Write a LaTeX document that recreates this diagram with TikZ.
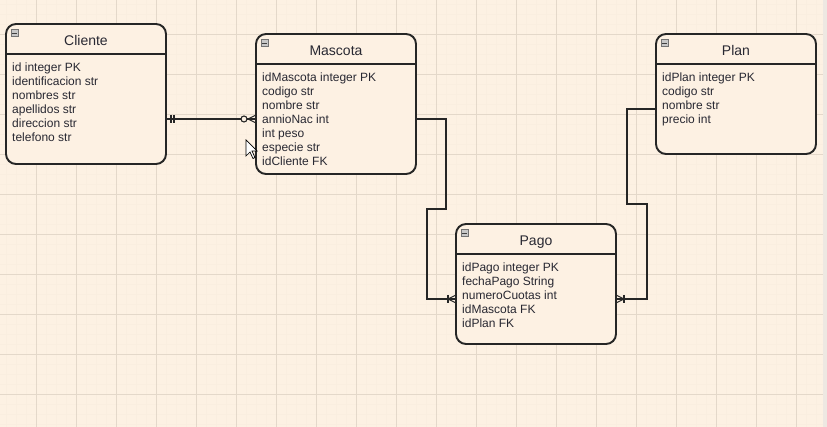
\documentclass[tikz,border=0pt]{standalone}
\usepackage{fontspec}
\setmainfont{Liberation Sans}
\usetikzlibrary{calc}
\definecolor{bg}{RGB}{253,241,227}
\definecolor{gridmaj}{RGB}{228,216,202}
\definecolor{gridmin}{RGB}{250,238,224}
\definecolor{ink}{RGB}{38,38,38}
\definecolor{txt}{RGB}{40,40,50}
\definecolor{iconfill}{RGB}{200,200,200}
\definecolor{strip}{RGB}{238,232,226}
\tikzset{
  entity/.style={draw=ink, line width=1.9pt, rounded corners=10pt, minimum width=160pt,
    anchor=north west, inner sep=0pt, outer sep=0pt, fill=bg},
  hdrline/.style={draw=ink, line width=1.9pt},
  titletext/.style={anchor=base, font=\fontsize{14}{16}\selectfont, text=txt, inner sep=0pt},
  attr/.style={anchor=base west, font=\fontsize{12}{14}\selectfont, text=txt, inner sep=0pt},
  conn/.style={draw=ink, line width=1.1pt},
  icon/.style={draw=black!55, fill=iconfill, minimum size=7pt, inner sep=0pt, line width=0.5pt,
    path picture={\draw[black!75, line width=0.9pt]
      ([xshift=1.3pt]path picture bounding box.west) -- ([xshift=-1.3pt]path picture bounding box.east);}},
}
\begin{document}
\begin{tikzpicture}[x=1pt,y=-1pt]
% background and grid
\fill[bg] (0,0) rectangle (827,427);
\useasboundingbox (0,0) rectangle (827,427);
\foreach \gx in {6,16,...,826} \draw[gridmin, line width=0.6pt] (\gx,0) -- (\gx,427);
\foreach \gy in {4,14,...,424} \draw[gridmin, line width=0.6pt] (0,\gy) -- (827,\gy);
\foreach \gx in {36,76,...,826} \draw[gridmaj, line width=0.8pt] (\gx,0) -- (\gx,427);
\foreach \gy in {34,74,...,424} \draw[gridmaj, line width=0.8pt] (0,\gy) -- (827,\gy);
\fill[strip] (823,0) rectangle (827,427);

% entities
\node[entity, minimum height=140pt] (cliente) at (6,24) {};
\node[entity, minimum height=140pt] (mascota) at (256,34) {};
\node[entity, minimum height=120pt] (plan) at (656,34) {};
\node[entity, minimum height=120pt] (pago) at (456,224) {};

\foreach \e/\ttl in {cliente/Cliente, mascota/Mascota, plan/Plan, pago/Pago}{
  \draw[hdrline] ([yshift=-30pt]\e.north west) -- ([yshift=-30pt]\e.north east);
  \node[titletext] (\e-title) at ($(\e.north)+(0,21.5)$) {\ttl};
  \node[icon] (\e-icon) at ($(\e.north west)+(8.5,9)$) {};
}

\foreach \t [count=\i] in {id integer PK, identificacion str, nombres str, apellidos str, direccion str, telefono str}
  \node[attr] (cliente-a\i) at ($(cliente.north west)+(6,{48+14*(\i-1)})$) {\t};
\foreach \t [count=\i] in {idMascota integer PK, codigo str, nombre str, annioNac int, int peso, especie str, idCliente FK}
  \node[attr] (mascota-a\i) at ($(mascota.north west)+(6,{48+14*(\i-1)})$) {\t};
\foreach \t [count=\i] in {idPlan integer PK, codigo str, nombre str, precio int}
  \node[attr] (plan-a\i) at ($(plan.north west)+(6,{48+14*(\i-1)})$) {\t};
\foreach \t [count=\i] in {idPago integer PK, fechaPago String, numeroCuotas int, idMascota FK, idPlan FK}
  \node[attr] (pago-a\i) at ($(pago.north west)+(6,{48+14*(\i-1)})$) {\t};

% connector endpoints
\coordinate (cl-r) at ([yshift=-25pt]cliente.east);
\coordinate (ma-l) at ([yshift=-15pt]mascota.west);
\coordinate (ma-r) at ([yshift=-15pt]mascota.east);
\coordinate (pl-l) at ([yshift=-15pt]plan.west);
\coordinate (pa-l) at ([yshift=-15pt]pago.west);
\coordinate (pa-r) at ([yshift=-15pt]pago.east);

% Cliente -- Mascota (one and only one -- zero or many)
\draw[conn] (cl-r) -- (ma-l);
\draw[conn] ($(cl-r)+(5,-4)$) -- ($(cl-r)+(5,4)$);
\draw[conn] ($(cl-r)+(8,-4)$) -- ($(cl-r)+(8,4)$);
\draw[conn] ($(ma-l)+(-8,0)$) -- ($(ma-l)+(0,-4)$);
\draw[conn] ($(ma-l)+(-8,0)$) -- ($(ma-l)+(0,4)$);
\draw[conn, fill=bg] ($(ma-l)+(-12,0)$) circle (3pt);

% Mascota -- Pago (one or many)
\draw[conn] (ma-r) -- (446,119) -- (446,209) -- (427,209) -- (427,299) -- (pa-l);
\draw[conn] ($(pa-l)+(-8,-4)$) -- ($(pa-l)+(-8,4)$);
\draw[conn] ($(pa-l)+(-8,0)$) -- ($(pa-l)+(0,-4)$);
\draw[conn] ($(pa-l)+(-8,0)$) -- ($(pa-l)+(0,4)$);

% Plan -- Pago (one or many)
\draw[conn] (pl-l) -- (627,109) -- (627,204) -- (647,204) -- (647,299) -- (pa-r);
\draw[conn] ($(pa-r)+(8,-4)$) -- ($(pa-r)+(8,4)$);
\draw[conn] ($(pa-r)+(8,0)$) -- ($(pa-r)+(0,-4)$);
\draw[conn] ($(pa-r)+(8,0)$) -- ($(pa-r)+(0,4)$);

% mouse cursor
\draw[black, fill=white, line width=0.7pt, line join=miter]
  (246,140) -- (246,156) -- (250,152) -- (253,158.5) -- (255,157.5) -- (252,151) -- (257,151) -- cycle;
\end{tikzpicture}
\end{document}
